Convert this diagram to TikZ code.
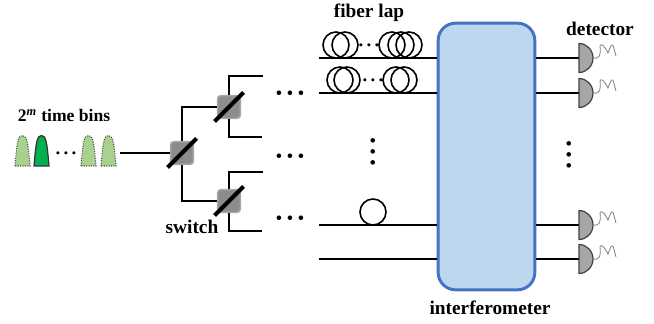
\documentclass[tikz,border=0pt]{standalone}
\usepackage{xcolor}
\usepackage{fontspec}
\setmainfont{Liberation Serif}
\usepackage{tikz}
\usetikzlibrary{arrows.meta,positioning,calc}

\definecolor{boxfill}{HTML}{BDD7EE}
\definecolor{boxline}{HTML}{4472C4}
\definecolor{pulselight}{HTML}{A9D18E}
\definecolor{pulsedark}{HTML}{00B050}
\definecolor{switchfill}{HTML}{8C8C8C}
\definecolor{switchline}{HTML}{A6A6A6}
\newcommand{\rowdots}{·\kern1.3pt·\kern1.3pt·}

\begin{document}
\begin{tikzpicture}[
    x=0.75pt,y=-0.75pt,
    every node/.style={font=\fontsize{14.5}{16}\selectfont\bfseries},
    switchbox/.style={rectangle,rounded corners=2.5pt,draw=switchline,line width=1.2pt,
                     fill=switchfill,minimum size=17pt,inner sep=0pt},
    slash/.style    ={-,black,line width=3pt},
    wire/.style     ={-,black,line width=2.1pt},
    thinwire/.style ={-,black,line width=2.1pt},
    coil/.style     ={circle,draw=black,line width=1.2pt,minimum size=19.5pt,inner sep=0pt},
    smalldots/.style={font=\fontsize{14}{16}\selectfont\bfseries,inner sep=0pt},
    bigdots/.style  ={font=\fontsize{21}{22}\selectfont\bfseries,inner sep=0pt},
    pulseon/.style  ={draw=black!80,line width=0.9pt,fill=pulsedark},
    pulseoff/.style ={draw=black!70,line width=0.8pt,densely dotted,fill=pulselight},
    detect/.style   ={draw=black!75,line width=0.9pt,fill=gray!70},
    wiggle/.style   ={-,gray,line width=0.6pt},
    interf/.style   ={rectangle,rounded corners=13pt,draw=boxline,line width=2.2pt,
                     fill=boxfill,minimum width=72.5pt,minimum height=200pt,inner sep=0pt},
  ]
  \useasboundingbox (0,0) rectangle (654,324);

  % --- input pulses ---
  \foreach \px/\st in {22.5/pulseoff,41.5/pulseon,88.5/pulseoff,108.5/pulseoff}{
    \draw[\st] (\px-7.5,166) .. controls (\px-5.5,142) and (\px-4.5,135.5) .. (\px,135.5)
      .. controls (\px+4.5,135.5) and (\px+5.5,142) .. (\px+7.5,166) -- cycle;
  }
  \node[smalldots] (pdots) at (66,156) {\rowdots};
  \node[font=\fontsize{13.2}{16}\selectfont\bfseries] (bins) at (64,115) {2\textsuperscript{\textit{m}} time bins};

  % --- switches ---
  \coordinate (src) at (120,153);
  \node[switchbox] (s1) at (182,153) {};
  \node[switchbox] (s2) at (229,107) {};
  \node[switchbox] (s3) at (229,201) {};
  \coordinate (o1) at (263,76);
  \coordinate (o2) at (262,137);
  \coordinate (o3) at (263,172);
  \coordinate (o4) at (262,231);

  \draw[wire] (src) -- (s1.west);
  \draw[wire] (s1.north) |- (s2.west);
  \draw[wire] (s1.south) |- (s3.west);
  \draw[wire] (s2.north) |- (o1);
  \draw[wire] (s2.south) |- (o2);
  \draw[wire] (s3.north) |- (o3);
  \draw[wire] (s3.south) |- (o4);

  \foreach \sw in {s1,s2,s3}{
    \draw[slash] ([shift={(-14.5,14.5)}]\sw.center) -- ([shift={(14.5,-14.5)}]\sw.center);
  }
  \node (swlabel) at (192,227) {switch};

  \node[bigdots] (d1) at (290,97)  {\rowdots};
  \node[bigdots] (d2) at (290,160) {\rowdots};
  \node[bigdots] (d3) at (290,222) {\rowdots};

  % --- interferometer with the lines through it ---
  \node[interf] (ifm) at (486.5,156.5) {};
  \node (ifmlabel) at (490,308) {interferometer};

  \foreach \k/\ly in {1/58,2/93,3/225,4/259}{
    \coordinate (in\k) at (319,\ly);
    \coordinate (det\k) at (579,\ly);
    \draw[thinwire] (in\k) -- (in\k -| ifm.west);
    \draw[thinwire] (det\k -| ifm.east) -- (det\k);
    \draw[detect] ($(det\k)+(0,-14.5)$) .. controls ($(det\k)+(7.7,-14.5)$) and ($(det\k)+(14,-8)$) .. ($(det\k)+(14,0)$)
      .. controls ($(det\k)+(14,8)$) and ($(det\k)+(7.7,14.5)$) .. ($(det\k)+(0,14.5)$) -- cycle;
    \draw[wiggle] ($(det\k)+(14,0)$) .. controls ($(det\k)+(21,1)$) and ($(det\k)+(22,-3)$) .. ($(det\k)+(21,-12)$)
      .. controls ($(det\k)+(22,-15)$) and ($(det\k)+(25,-13)$) .. ($(det\k)+(29,-5)$)
      .. controls ($(det\k)+(31,-10)$) and ($(det\k)+(32,-14)$) .. ($(det\k)+(34,-13)$)
      -- ($(det\k)+(37,-2)$);
  }

  % --- fiber coils ---
  \foreach \cx in {336,345,392,401,409}{
    \node[coil] (ca\cx) at (\cx,45) {};
  }
  \foreach \cx in {340,347,396,404}{
    \node[coil] (cb\cx) at (\cx,80) {};
  }
  \node[coil] (cc) at (373,212) {};
  \node[smalldots] (fd1) at (369,48) {\rowdots};
  \node[smalldots] (fd2) at (373,83) {\rowdots};

  \node[bigdots,rotate=90] (vd1) at (377,151.5) {\rowdots};
  \node[bigdots,rotate=90] (vd2) at (573,154.5) {\rowdots};

  % --- top labels ---
  \node (fiblabel) at (369,13) {fiber lap};
  \node (detlabel) at (600,29) {detector};
\end{tikzpicture}
\end{document}
